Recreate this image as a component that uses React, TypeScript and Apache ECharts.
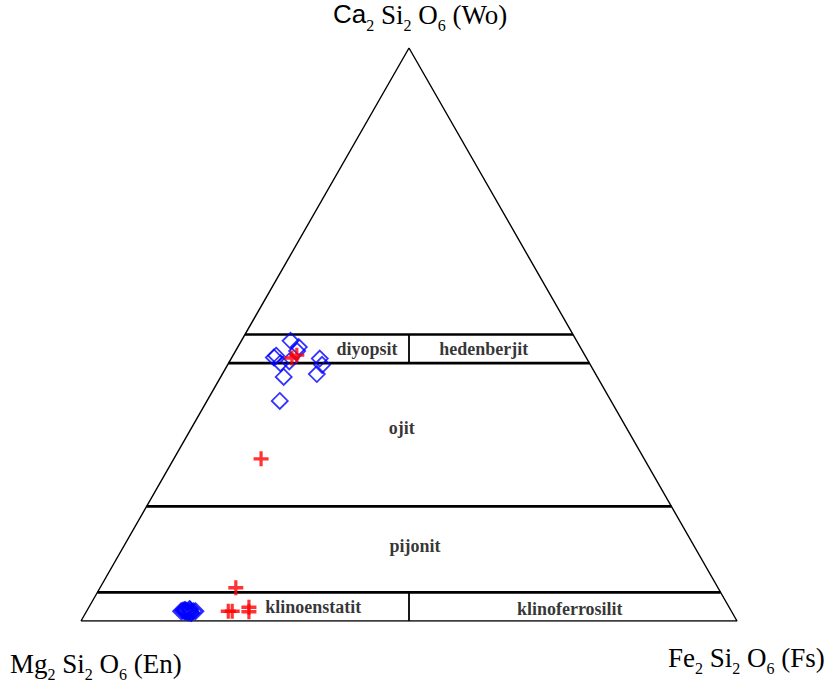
import React, { useEffect, useRef } from "react";
import * as echarts from "echarts";

// Compositions as [En, Fs, Wo] in mol %
const blueSamples: [number, number, number][] = [
  [43.6, 7.5, 48.9],
  [42.9, 9.3, 47.8],
  [47.1, 6.6, 46.3],
  [47.6, 6.4, 46.0],
  [47.1, 7.9, 45.0],
  [45.6, 9.1, 45.3],
  [47.8, 9.6, 42.6],
  [40.7, 13.5, 45.8],
  [40.9, 14.4, 44.7],
  [42.5, 14.4, 43.1],
  [50.5, 11.1, 38.4],
  [43.5, 9.4, 47.1],
  [83.9, 14.4, 1.7],
  [83.3, 14.8, 1.9],
  [83.0, 15.3, 1.7],
  [82.4, 15.7, 1.9],
  [82.0, 16.3, 1.7],
  [81.7, 16.6, 1.7],
  [83.2, 15.2, 1.6],
  [82.5, 16.0, 1.5],
  [83.6, 14.6, 1.8],
  [82.7, 15.5, 2.1],
  [82.2, 16.1, 1.4],
  [83.1, 15.0, 1.9],
  [82.9, 15.6, 1.5],
  [82.6, 15.8, 1.6],
  [83.4, 14.9, 1.7],
];

const redSamples: [number, number, number][] = [
  [43.9, 9.7, 46.4],
  [44.9, 9.2, 45.9],
  [58.4, 13.3, 28.3],
  [73.5, 20.7, 5.8],
  [76.7, 21.6, 1.7],
  [76.1, 22.2, 1.7],
  [73.2, 24.4, 2.4],
  [73.6, 24.8, 1.6],
];

// Field boundaries (Wo %)
const boundaryWo = [5, 20, 45, 50];
// Wo intervals where the En/Fs = 50 divider is drawn
const dividerRanges: [number, number][] = [
  [0, 5],
  [45, 50],
];

// Field names with [x, Wo] position in the diagram plane
const fieldNames = ["diyopsit", "hedenberjit", "ojit", "pijonit", "klinoenstatit", "klinoferrosilit"];
const fieldPos: [number, number][] = [
  [43.6, 47.5],
  [61.4, 47.5],
  [48.9, 33.7],
  [50.9, 13.1],
  [35.4, 2.4],
  [74.5, 2.1],
];

const toXY = (c: [number, number, number]) => {
  const [, fs, wo] = c;
  return [fs + wo / 2, wo];
};

const plusPath = "path://M0,5.4H15V8.6H0Z M5.9,0H9.1V14H5.9Z";

export default function App() {
  const ref = useRef<HTMLDivElement>(null);
  useEffect(() => {
    if (!ref.current) return;
    const chart = echarts.init(ref.current, null, { renderer: "svg" });

    const lineSeries: any[] = [];
    lineSeries.push({
      type: "line",
      data: [
        [0, 0],
        [100, 0],
        [50, 100],
        [0, 0],
      ],
      symbol: "none",
      lineStyle: { color: "#000", width: 1.4 },
      silent: true,
      z: 1,
    });
    boundaryWo.forEach((w) => {
      lineSeries.push({
        type: "line",
        data: [
          [w / 2, w],
          [100 - w / 2, w],
        ],
        symbol: "none",
        lineStyle: { color: "#000", width: 2.6 },
        silent: true,
        z: 1,
      });
    });
    dividerRanges.forEach(([a, b]) => {
      lineSeries.push({
        type: "line",
        data: [
          [50, a],
          [50, b],
        ],
        symbol: "none",
        lineStyle: { color: "#000", width: 1.8 },
        silent: true,
        z: 1,
      });
    });

    const serif = "'Liberation Serif', 'Times New Roman', serif";
    const mainStyle = { fontFamily: serif, fontSize: 27, lineHeight: 30, verticalAlign: "top", color: "#000" };
    const sansStyle = { ...mainStyle, fontFamily: "'Liberation Sans', Arial, sans-serif", fontSize: 26 };
    const subStyle = { fontFamily: serif, fontSize: 16, lineHeight: 16, verticalAlign: "top", padding: [16, 0, 0, 0], color: "#000" };
    const rich = { m: mainStyle, c: sansStyle, s: subStyle };

    chart.setOption({
      animation: false,
      backgroundColor: "#fff",
      grid: { left: 81, right: 94, top: 48, bottom: 67 },
      xAxis: { type: "value", min: 0, max: 100, show: false },
      yAxis: { type: "value", min: 0, max: 100, show: false },
      series: [
        ...lineSeries,
        {
          type: "scatter",
          data: fieldPos.map((p, i) => ({ value: p, name: fieldNames[i] })),
          symbolSize: 0,
          silent: true,
          label: {
            show: true,
            position: "inside",
            formatter: "{b}",
            fontFamily: serif,
            fontWeight: "bold",
            fontSize: 18,
            color: "#000",
          },
          z: 2,
        },
        {
          type: "scatter",
          data: blueSamples.map(toXY),
          symbol: "diamond",
          symbolSize: 16,
          itemStyle: { color: "transparent", borderColor: "#0000ff", borderWidth: 1.8 },
          z: 3,
        },
        {
          type: "scatter",
          data: redSamples.map(toXY),
          symbol: plusPath,
          symbolSize: 15,
          itemStyle: { color: "#ff0000" },
          z: 4,
        },
      ],
      graphic: [
        {
          type: "text",
          left: 333,
          top: 1,
          style: { text: "{c|Ca}{s|2}{m| Si}{s|2}{m| O}{s|6}{m| (Wo)}", rich },
        },
        {
          type: "text",
          left: 10,
          top: 650,
          style: { text: "{m|Mg}{s|2}{m| Si}{s|2}{m| O}{s|6}{m| (En)}", rich },
        },
        {
          type: "text",
          left: 668,
          top: 644,
          style: { text: "{m|Fe}{s|2}{m| Si}{s|2}{m| O}{s|6}{m| (Fs)}", rich },
        },
      ],
    });
    return () => chart.dispose();
  }, []);
  return (
    <div
      ref={ref}
      style={{ position: "absolute", left: 0, top: 0, width: 831, height: 688 }}
    />
  );
}
